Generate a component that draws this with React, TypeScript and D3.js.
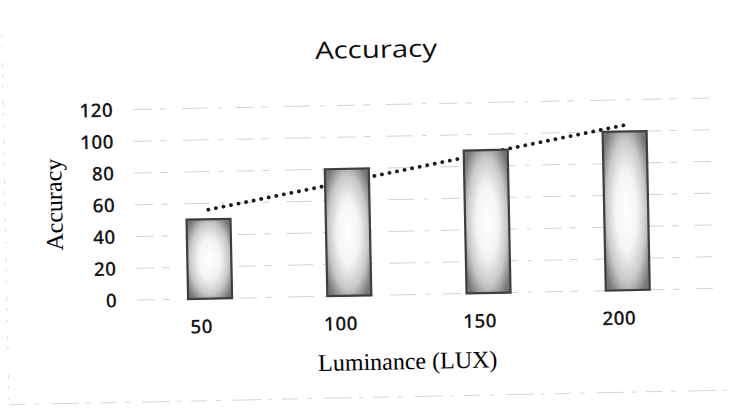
import React from 'react';
import * as d3 from 'd3';

const categories: string[] = ['50', '100', '150', '200'];
const accuracy: number[] = [50, 80, 90, 100];
const yTicks: number[] = [0, 20, 40, 60, 80, 100, 120];
const chartTitle = 'Accuracy';
const xAxisTitle = 'Luminance (LUX)';
const yAxisTitle = 'Accuracy';

export default function App() {
  const W = 731;
  const H = 416;
  const x = d3
    .scaleBand<string>()
    .domain(categories)
    .range([140.5, 697.5])
    .paddingInner(0.684)
    .paddingOuter(0.342);
  const y = d3.scaleLinear().domain([0, 120]).range([300, 109.5]);
  const bw = x.bandwidth();
  const cx = (c: string) => (x(c) as number) + bw / 2;

  // linear trendline (least squares over category index)
  const n = accuracy.length;
  const idx = accuracy.map((_, i) => i + 1);
  const mx = d3.mean(idx) as number;
  const my = d3.mean(accuracy) as number;
  const slope =
    d3.sum(idx.map((v, i) => (v - mx) * (accuracy[i] - my))) /
    d3.sum(idx.map((v) => (v - mx) * (v - mx)));
  const intercept = my - slope * mx;
  const trendPts: [number, number][] = [
    [cx(categories[0]), y(intercept + slope * 1)],
    [cx(categories[n - 1]), y(intercept + slope * n)],
  ];
  const trendPath = d3.line()(trendPts) as string;

  const sans = '"Open Sans", "Liberation Sans", sans-serif';
  const serif = '"Liberation Serif", "DejaVu Serif", serif';

  return (
    <svg
      width={W}
      height={H}
      style={{ position: 'absolute', left: 0, top: 0, background: '#fff' }}
    >
      <defs>
        <radialGradient id="barGrad" cx="50%" cy="50%" r="62%">
          <stop offset="0%" stopColor="#ffffff" />
          <stop offset="40%" stopColor="#f4f4f4" />
          <stop offset="72%" stopColor="#c8c8c8" />
          <stop offset="100%" stopColor="#767676" />
        </radialGradient>
      </defs>
      <g transform="rotate(-1.15 140 300)">
        {/* faint chart border */}
        <line x1={7} x2={7} y1={32} y2={402} stroke="#d9d9d9" strokeWidth={1} strokeDasharray="3 9 2 14 4 7" />
        <line x1={7} x2={728} y1={402} y2={402} stroke="#d6d6d6" strokeWidth={1} strokeDasharray="16 9 5 12 28 7 4 10" />

        {/* gridlines */}
        {yTicks.map((t) => (
          <line
            key={'g' + t}
            x1={137}
            x2={713}
            y1={y(t)}
            y2={y(t)}
            stroke="#d2d2d2"
            strokeWidth={1}
            strokeDasharray="18 8 7 16 26 10 4 13"
          />
        ))}

        {/* title */}
        <text
          x={381}
          y={62.5}
          textAnchor="middle"
          fontFamily={sans}
          fontSize={24}
          fontWeight={500}
          fill="#0d0d0d"
          textLength={122}
          lengthAdjust="spacingAndGlyphs"
        >
          {chartTitle}
        </text>

        {/* y tick labels */}
        {yTicks.map((t) => (
          <text
            key={'t' + t}
            x={117}
            y={y(t) + 6.8}
            textAnchor="end"
            fontFamily={sans}
            fontSize={19}
            fontWeight={600}
            letterSpacing={0.4}
            fill="#151515"
          >
            {t}
          </text>
        ))}

        {/* trendline (behind bars) */}
        <path
          d={trendPath}
          fill="none"
          stroke="#1a1a1a"
          strokeWidth={3.8}
          strokeLinecap="round"
          strokeDasharray="0.1 7.6"
        />

        {/* bars */}
        {categories.map((c, i) => (
          <rect
            key={'b' + c}
            x={x(c)}
            y={y(accuracy[i])}
            width={bw}
            height={y(0) - y(accuracy[i])}
            fill="url(#barGrad)"
            stroke="#3f3f3f"
            strokeWidth={2.2}
          />
        ))}

        {/* x tick labels */}
        {categories.map((c) => (
          <text
            key={'x' + c}
            x={cx(c) - 9}
            y={334.5}
            textAnchor="middle"
            fontFamily={sans}
            fontSize={19}
            fontWeight={600}
            letterSpacing={0.4}
            fill="#151515"
          >
            {c}
          </text>
        ))}

        {/* x axis title */}
        <text
          x={406.5}
          y={374.5}
          textAnchor="middle"
          fontFamily={serif}
          fontSize={24}
          fill="#000"
        >
          {xAxisTitle}
        </text>

        {/* y axis title */}
        <text
          transform={`translate(64,203) rotate(-90)`}
          textAnchor="middle"
          fontFamily={serif}
          fontSize={24}
          fill="#000"
        >
          {yAxisTitle}
        </text>
      </g>
    </svg>
  );
}
